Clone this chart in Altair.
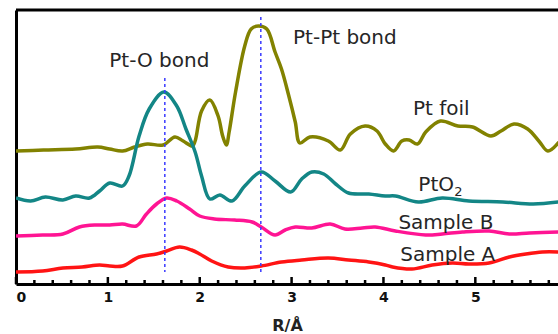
import altair as alt
import pandas as pd

# ---- data (R in Å, intensity in arbitrary offset units) ----
foil_r = [0.00, 0.30, 0.65, 0.89, 1.02, 1.16, 1.29, 1.43, 1.60, 1.73, 1.82, 1.92, 1.95, 2.02,
          2.11, 2.20, 2.25, 2.29, 2.32, 2.39, 2.49, 2.56, 2.64, 2.73, 2.82, 2.89, 2.97, 3.04,
          3.09, 3.20, 3.40, 3.53, 3.64, 3.80, 3.93, 4.02, 4.11, 4.20, 4.28, 4.37, 4.46, 4.62,
          4.81, 4.97, 5.17, 5.28, 5.42, 5.57, 5.70, 5.79, 5.91]
foil_v = [133, 134, 135, 137, 135, 133, 137, 140, 139, 147, 143, 138, 143, 173,
          184, 168, 148, 139, 152, 192, 238, 255, 258, 255, 232, 215, 188, 162,
          141, 147, 143, 134, 150, 158, 153, 140, 133, 143, 144, 140, 152, 163,
          158, 157, 148, 153, 160, 155, 142, 133, 142]

pto2_r = [0.00, 0.16, 0.32, 0.51, 0.65, 0.80, 0.91, 1.02, 1.16, 1.23, 1.34, 1.45, 1.61, 1.75,
          1.85, 1.95, 2.02, 2.11, 2.22, 2.35, 2.49, 2.67, 2.82, 2.99, 3.11, 3.22, 3.35, 3.48,
          3.62, 3.84, 4.02, 4.13, 4.38, 4.64, 4.93, 5.30, 5.63, 5.91]
pto2_v = [86, 83, 87, 84, 88, 86, 93, 101, 98, 108, 148, 175, 192, 178,
          155, 132, 108, 85, 89, 83, 98, 112, 103, 92, 105, 112, 110, 100,
          91, 90, 88, 88, 82, 86, 83, 82, 80, 82]

sb_r = [0.00, 0.29, 0.51, 0.69, 0.87, 1.02, 1.16, 1.31, 1.42, 1.53, 1.64, 1.75, 1.89, 2.00,
        2.16, 2.38, 2.57, 2.67, 2.82, 2.93, 3.04, 3.22, 3.42, 3.58, 3.77, 3.91, 4.13, 4.46,
        4.64, 4.86, 5.15, 5.37, 5.59, 5.91]
sb_v = [48, 49, 50, 57, 59, 59, 60, 58, 70, 80, 86, 83, 75, 68,
        65, 64, 62, 57, 49, 54, 57, 56, 60, 55, 56, 57, 53, 49,
        50, 52, 53, 50, 51, 52]

sa_r = [0.00, 0.29, 0.51, 0.72, 0.91, 1.02, 1.16, 1.34, 1.53, 1.64, 1.78, 1.91, 2.00, 2.13,
        2.31, 2.49, 2.67, 2.89, 3.11, 3.40, 3.62, 3.84, 4.02, 4.10, 4.31, 4.53, 4.75, 4.93,
        5.15, 5.37, 5.55, 5.73, 5.91]
sa_v = [12, 13, 16, 17, 19, 18, 18, 27, 30, 33, 37, 34, 30, 23,
        17, 16, 18, 22, 24, 26, 24, 22, 19, 17, 15, 19, 21, 20,
        21, 27, 30, 32, 32]

series_names = ["Pt foil", "PtO2", "Sample B", "Sample A"]
series_colors = ["#828200", "#138686", "#ff1493", "#ff1414"]

# dashed bond markers
bond_r = [1.62, 2.665]
bond_top = [206, 267]
bond_bottom = [12, 12]

# labels
label_text = ["Pt-O bond", "Pt-Pt bond", "Pt foil", "PtO", "Sample B", "Sample A"]
label_r = [1.56, 3.58, 4.63, 4.38, 4.68, 4.70]
label_v = [217, 240, 169, 93, 55, 23]
label_align = ["center", "center", "center", "left", "center", "center"]
sub_text = ["2"]
sub_r = [4.77]
sub_v = [88]

# axis ticks
major_ticks = [0, 1, 2, 3, 4, 5]
minor_ticks = [0.2, 0.4, 0.6, 0.8, 1.2, 1.4, 1.6, 1.8, 2.2, 2.4, 2.6, 2.8, 3.2, 3.4, 3.6, 3.8,
               4.2, 4.4, 4.6, 4.8, 5.2, 5.4, 5.6, 5.8]

# ---- build tables ----
rows = []
for name, rs, vs in zip(series_names, [foil_r, pto2_r, sb_r, sa_r], [foil_v, pto2_v, sb_v, sa_v]):
    for r, v in zip(rs, vs):
        rows.append({"series": name, "R": r, "I": v})
df = pd.DataFrame(rows)

bonds = pd.DataFrame({"R": bond_r, "top": bond_top, "bottom": bond_bottom})
labels = pd.DataFrame({"text": label_text, "R": label_r, "I": label_v, "align": label_align})
subs = pd.DataFrame({"text": sub_text, "R": sub_r, "I": sub_v})
ticks = pd.DataFrame({"R": major_ticks + minor_ticks,
                      "len": [7] * len(major_ticks) + [4] * len(minor_ticks)})
ticks["zero"] = 0

W, H = 542, 274
xs = alt.Scale(domain=[0, 5.9], nice=False, zero=False)
ys = alt.Scale(domain=[0, H], nice=False)

x_axis = alt.Axis(values=major_ticks, format="d", ticks=False, grid=False,
                  domainColor="black", domainWidth=3,
                  labelFont="DejaVu Sans", labelFontWeight="bold", labelFontSize=14,
                  labelColor="#111111", labelPadding=6,
                  title="R/Å", titleFont="DejaVu Sans", titleFontWeight="bold",
                  titleFontSize=16, titleColor="#222222", titlePadding=13)
y_axis = alt.Axis(labels=False, ticks=False, grid=False, title=None,
                  domainColor="black", domainWidth=3)

lines = alt.Chart(df).mark_line(strokeWidth=3.5, interpolate="catmull-rom", clip=True).encode(
    x=alt.X("R:Q", scale=xs, axis=x_axis),
    y=alt.Y("I:Q", scale=ys, axis=y_axis),
    color=alt.Color("series:N", scale=alt.Scale(domain=series_names, range=series_colors), legend=None),
    detail="series:N",
)

dashes = alt.Chart(bonds).mark_rule(color="#3a3aff", strokeWidth=1.5, strokeDash=[3, 3]).encode(
    x="R:Q", y="top:Q", y2="bottom:Q"
)

tick_marks = alt.Chart(ticks).mark_rule(color="black", strokeWidth=2.5).encode(
    x="R:Q", y="zero:Q", y2="len:Q"
)

top_border = alt.Chart(pd.DataFrame({"a": [0]})).mark_rule(color="black", strokeWidth=3).encode(
    x=alt.value(0), x2=alt.value(W), y=alt.value(0)
)

text_center = alt.Chart(labels[labels["align"] == "center"]).mark_text(
    font="DejaVu Sans", fontSize=20, color="#262626", align="center", baseline="alphabetic"
).encode(x="R:Q", y="I:Q", text="text:N")

text_left = alt.Chart(labels[labels["align"] == "left"]).mark_text(
    font="DejaVu Sans", fontSize=20, color="#262626", align="left", baseline="alphabetic"
).encode(x="R:Q", y="I:Q", text="text:N")

text_sub = alt.Chart(subs).mark_text(
    font="DejaVu Sans", fontSize=13, color="#262626", align="left", baseline="alphabetic"
).encode(x="R:Q", y="I:Q", text="text:N")

chart = alt.layer(lines, dashes, tick_marks, top_border, text_center, text_left, text_sub).properties(
    width=W, height=H,
    padding={"left": 16, "top": 10, "right": 0, "bottom": 50},
    autosize=alt.AutoSizeParams(type="none"),
).configure_view(stroke=None).configure(background="white")

chart.save("out.html", embed_options={"renderer": "svg", "actions": False})
